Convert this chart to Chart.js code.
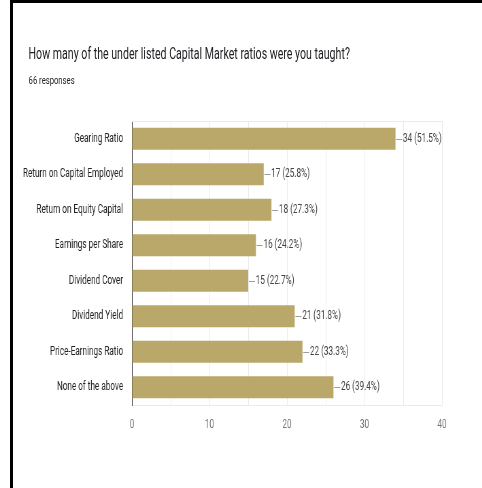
<!DOCTYPE html>
<html>
<head>
<meta charset="utf-8">
<script src="https://cdn.jsdelivr.net/npm/chart.js@4"></script>
<style>
  body { margin: 0; background: #fff; width: 482px; height: 488px; overflow: hidden; position: relative; font-family: Roboto, sans-serif; }
  #frameTop { position: absolute; left: 10px; top: 0; width: 472px; height: 3px; background: #000; }
  #frameLeft { position: absolute; left: 10px; top: 0; width: 3px; height: 488px; background: #000; }
  /* the screenshot is squeezed sideways, so the whole card is drawn wider and scaled back */
  #wrap { position: absolute; left: 0; top: 0; width: 709px; height: 488px; transform: scaleX(0.68); transform-origin: 0 0; }
  #title { position: absolute; left: 42px; top: 45px; font-size: 15.6px; color: #202124; white-space: nowrap; }
  #sub { position: absolute; left: 42px; top: 74px; font-size: 11.3px; color: #202124; white-space: nowrap; }
  canvas { position: absolute; left: 0; top: 0; }
</style>
</head>
<body>
<div id="frameTop"></div>
<div id="frameLeft"></div>
<div id="wrap">
  <div id="title">How many of the under listed Capital Market ratios were you taught?</div>
  <div id="sub">66 responses</div>
  <canvas id="ratioChart" width="709" height="488"></canvas>
</div>
<script>
const categories = [
  "Gearing Ratio",
  "Return on Capital Employed",
  "Return on Equity Capital",
  "Earnings per Share",
  "Dividend Cover",
  "Dividend Yield",
  "Price-Earnings Ratio",
  "None of the above"
];
const counts = [34, 17, 18, 16, 15, 21, 22, 26];
const responses = 66;
const xTicks = [0, 10, 20, 30, 40];

Chart.defaults.font.family = "Roboto, sans-serif";

// short leader line + "n (p%)" after each bar
const valueLabels = {
  id: "valueLabels",
  afterDatasetsDraw(chart) {
    const ctx = chart.ctx;
    const meta = chart.getDatasetMeta(0);
    ctx.save();
    ctx.font = "12px Roboto, sans-serif";
    ctx.textBaseline = "middle";
    ctx.textAlign = "left";
    meta.data.forEach((bar, i) => {
      const v = counts[i];
      ctx.strokeStyle = "#9e9e9e";
      ctx.lineWidth = 1;
      ctx.beginPath();
      ctx.moveTo(bar.x + 1, Math.round(bar.y) + 0.5);
      ctx.lineTo(bar.x + 10, Math.round(bar.y) + 0.5);
      ctx.stroke();
      ctx.fillStyle = "#444";
      ctx.fillText(v + " (" + (v / responses * 100).toFixed(1) + "%)", bar.x + 11, bar.y);
    });
    ctx.restore();
  }
};

// light line along the top of the plot
const topLine = {
  id: "topLine",
  beforeDatasetsDraw(chart) {
    const a = chart.chartArea;
    const ctx = chart.ctx;
    ctx.save();
    ctx.strokeStyle = "#ebebeb";
    ctx.beginPath();
    ctx.moveTo(a.left, Math.round(a.top) + 0.5);
    ctx.lineTo(a.right, Math.round(a.top) + 0.5);
    ctx.stroke();
    ctx.restore();
  }
};

new Chart(document.getElementById("ratioChart"), {
  type: "bar",
  data: {
    labels: categories,
    datasets: [{
      data: counts,
      backgroundColor: "#b9a86a",
      barPercentage: 0.62,
      categoryPercentage: 1
    }]
  },
  options: {
    indexAxis: "y",
    responsive: false,
    animation: false,
    layout: { padding: { top: 121, right: 59, bottom: 53, left: 0 } },
    plugins: { legend: { display: false }, tooltip: { enabled: false } },
    scales: {
      x: {
        min: 0,
        max: 40,
        afterFit(scale) { scale.height = 30; },
        grid: { color: "#ebebeb", drawTicks: false },
        border: { color: "#ebebeb" },
        ticks: {
          stepSize: 5,
          padding: 13,
          color: "#757575",
          font: { size: 12 },
          callback: (v) => (xTicks.includes(v) ? v : "")
        }
      },
      y: {
        afterFit(scale) { scale.width = 194; },
        grid: { color: "rgba(0,0,0,0)", drawTicks: false },
        border: { color: "#333", width: 1 },
        ticks: { padding: 13, color: "#222", font: { size: 12 }, autoSkip: false }
      }
    }
  },
  plugins: [valueLabels, topLine]
});
</script>
</body>
</html>
